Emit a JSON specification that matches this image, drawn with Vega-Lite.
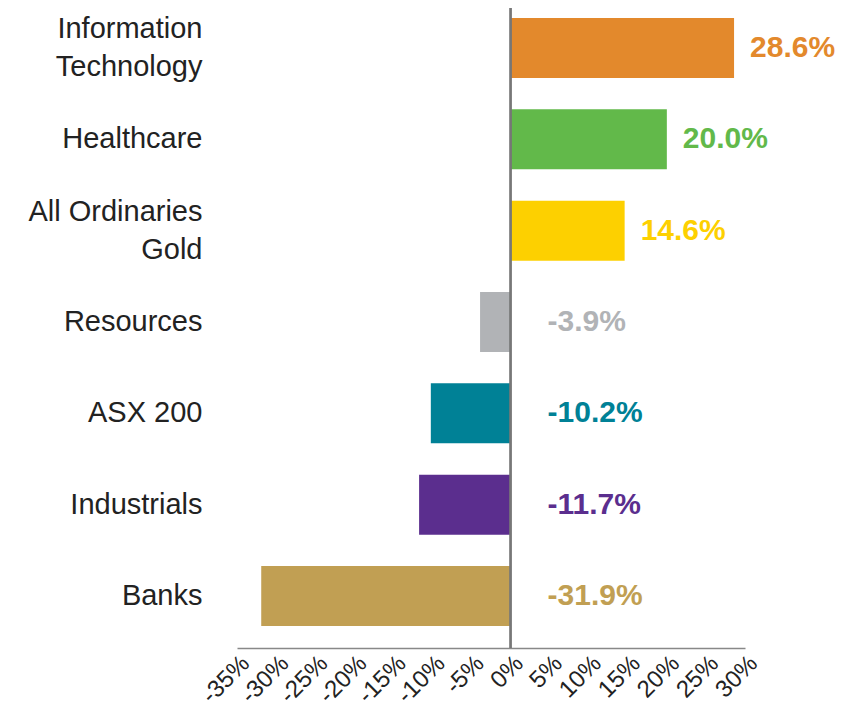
{
  "$schema": "https://vega.github.io/schema/vega-lite/v6.json",
  "width": 508,
  "height": 640,
  "autosize": "none",
  "padding": {"left": 237, "top": 8, "right": 105, "bottom": 63},
  "background": "white",
  "config": {
    "view": {"stroke": null},
    "font": "Liberation Sans",
    "axisX": {
      "title": null,
      "grid": false,
      "ticks": false,
      "labelAngle": -45,
      "labelFontSize": 24,
      "labelColor": "#222",
      "labelPadding": 3,
      "labelOverlap": false,
      "labelBound": false,
      "labelFlush": false,
      "domainColor": "#888",
      "domainWidth": 1.5
    }
  },
  "data": {
    "values": [
      {"sector": "Information Technology", "value": 28.6, "label": "28.6%", "color": "#E3892C"},
      {"sector": "Healthcare", "value": 20.0, "label": "20.0%", "color": "#62B94A"},
      {"sector": "All Ordinaries Gold", "value": 14.6, "label": "14.6%", "color": "#FDD000"},
      {"sector": "Resources", "value": -3.9, "label": "-3.9%", "color": "#B1B3B6"},
      {"sector": "ASX 200", "value": -10.2, "label": "-10.2%", "color": "#008196"},
      {"sector": "Industrials", "value": -11.7, "label": "-11.7%", "color": "#5B2E8E"},
      {"sector": "Banks", "value": -31.9, "label": "-31.9%", "color": "#C19F53"}
    ]
  },
  "encoding": {
    "y": {
      "field": "sector",
      "type": "nominal",
      "sort": null,
      "scale": {"paddingInner": 0.343, "paddingOuter": 0.175, "align": 0.3125},
      "axis": {
        "title": null,
        "domain": false,
        "ticks": false,
        "labelFontSize": 29,
        "labelColor": "#222",
        "labelPadding": 35,
        "labelLimit": 300,
        "labelLineHeight": 38,
        "labelOffset": {"condition": {"test": "datum.value == 'Information Technology' || datum.value == 'All Ordinaries Gold'", "value": -19}, "value": 0},
        "labelExpr": "datum.value == 'Information Technology' ? ['Information', 'Technology'] : datum.value == 'All Ordinaries Gold' ? ['All Ordinaries', 'Gold'] : datum.value"
      }
    },
    "x": {
      "field": "value",
      "type": "quantitative",
      "scale": {"domain": [-35, 30], "nice": false},
      "axis": {
        "values": [-35, -30, -25, -20, -15, -10, -5, 0, 5, 10, 15, 20, 25, 30],
        "labelExpr": "datum.value + '%'"
      }
    }
  },
  "layer": [
    {
      "mark": {"type": "bar"},
      "encoding": {
        "color": {"field": "color", "type": "nominal", "scale": null}
      }
    },
    {
      "mark": {"type": "rule", "color": "#777", "strokeWidth": 1.5},
      "encoding": {
        "x": {"datum": 0, "type": "quantitative", "axis": {"values": [-35, -30, -25, -20, -15, -10, -5, 0, 5, 10, 15, 20, 25, 30], "labelExpr": "datum.value + '%'"}},
        "y": null
      }
    },
    {
      "transform": [{"filter": "datum.value > 0"}],
      "mark": {"type": "text", "align": "left", "baseline": "middle", "dx": 16, "fontSize": 30, "fontWeight": "bold"},
      "encoding": {
        "text": {"field": "label", "type": "nominal"},
        "color": {"field": "color", "type": "nominal", "scale": null}
      }
    },
    {
      "transform": [{"filter": "datum.value < 0"}],
      "mark": {"type": "text", "align": "left", "baseline": "middle", "dx": 37, "fontSize": 30, "fontWeight": "bold"},
      "encoding": {
        "x": {"datum": 0, "type": "quantitative", "axis": {"values": [-35, -30, -25, -20, -15, -10, -5, 0, 5, 10, 15, 20, 25, 30], "labelExpr": "datum.value + '%'"}},
        "text": {"field": "label", "type": "nominal"},
        "color": {"field": "color", "type": "nominal", "scale": null}
      }
    }
  ]
}
